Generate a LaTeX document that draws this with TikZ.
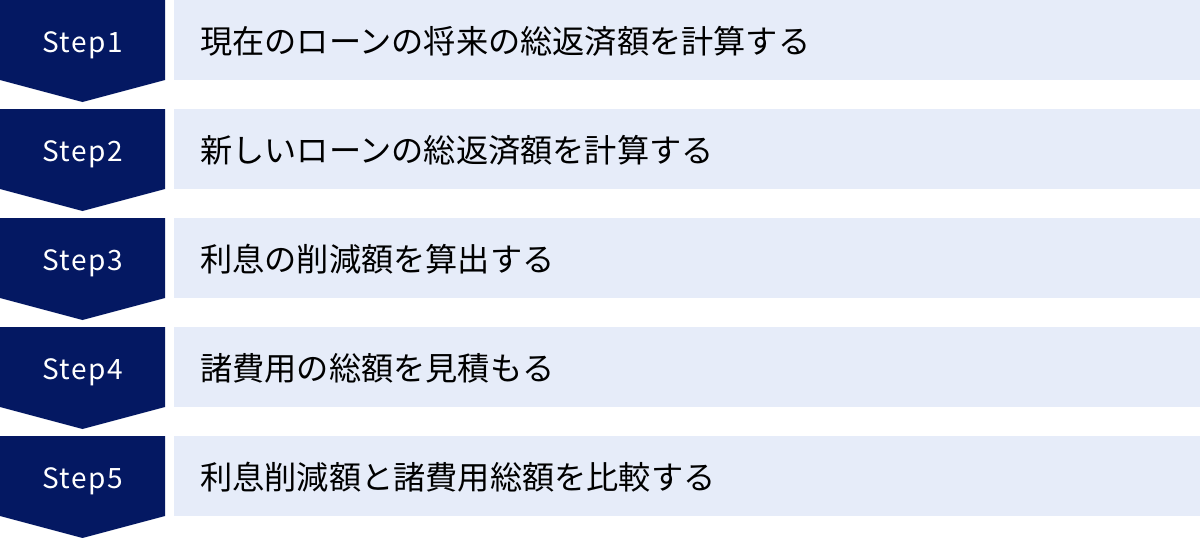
\documentclass[tikz,border=0pt]{standalone}
\usepackage{fontspec}
\setmainfont{Noto Sans CJK JP}
\newfontfamily\steplabelfont[LetterSpace=5]{Noto Sans CJK JP}
\usepackage{xcolor}
\definecolor{stepnavy}{HTML}{041862}
\definecolor{stepbg}{HTML}{E6ECF9}

\begin{document}
\begin{tikzpicture}[x=1pt,y=-1pt,
    steplabel/.style={anchor=base,text=white,font=\steplabelfont\fontsize{28}{28}\selectfont,inner sep=0pt},
    steptext/.style={anchor=west,text=black,font=\fontsize{32.2}{33}\selectfont,inner sep=0pt}]
        \useasboundingbox (0,0) rectangle (1200,538);
        % steps
        \foreach \txt [count=\n] in {現在のローンの将来の総返済額を計算する,新しいローンの総返済額を計算する,利息の削減額を算出する,諸費用の総額を見積もる,利息削減額と諸費用総額を比較する} {
            \pgfmathsetmacro{\top}{109*(\n-1)}
            \fill[stepnavy] (0,\top) -- ++(165,0) -- ++(0,80) -- ++(-82.5,22) -- ++(-82.5,-22) -- cycle;
            \fill[stepbg] (174,\top) rectangle ++(1026,80);
            \node[steplabel] (label\n) at (82.5,\top+52) {Step\n};
            \node[steptext] (text\n) at (200,\top+41) {\txt};
        }
    \end{tikzpicture}
\end{document}
